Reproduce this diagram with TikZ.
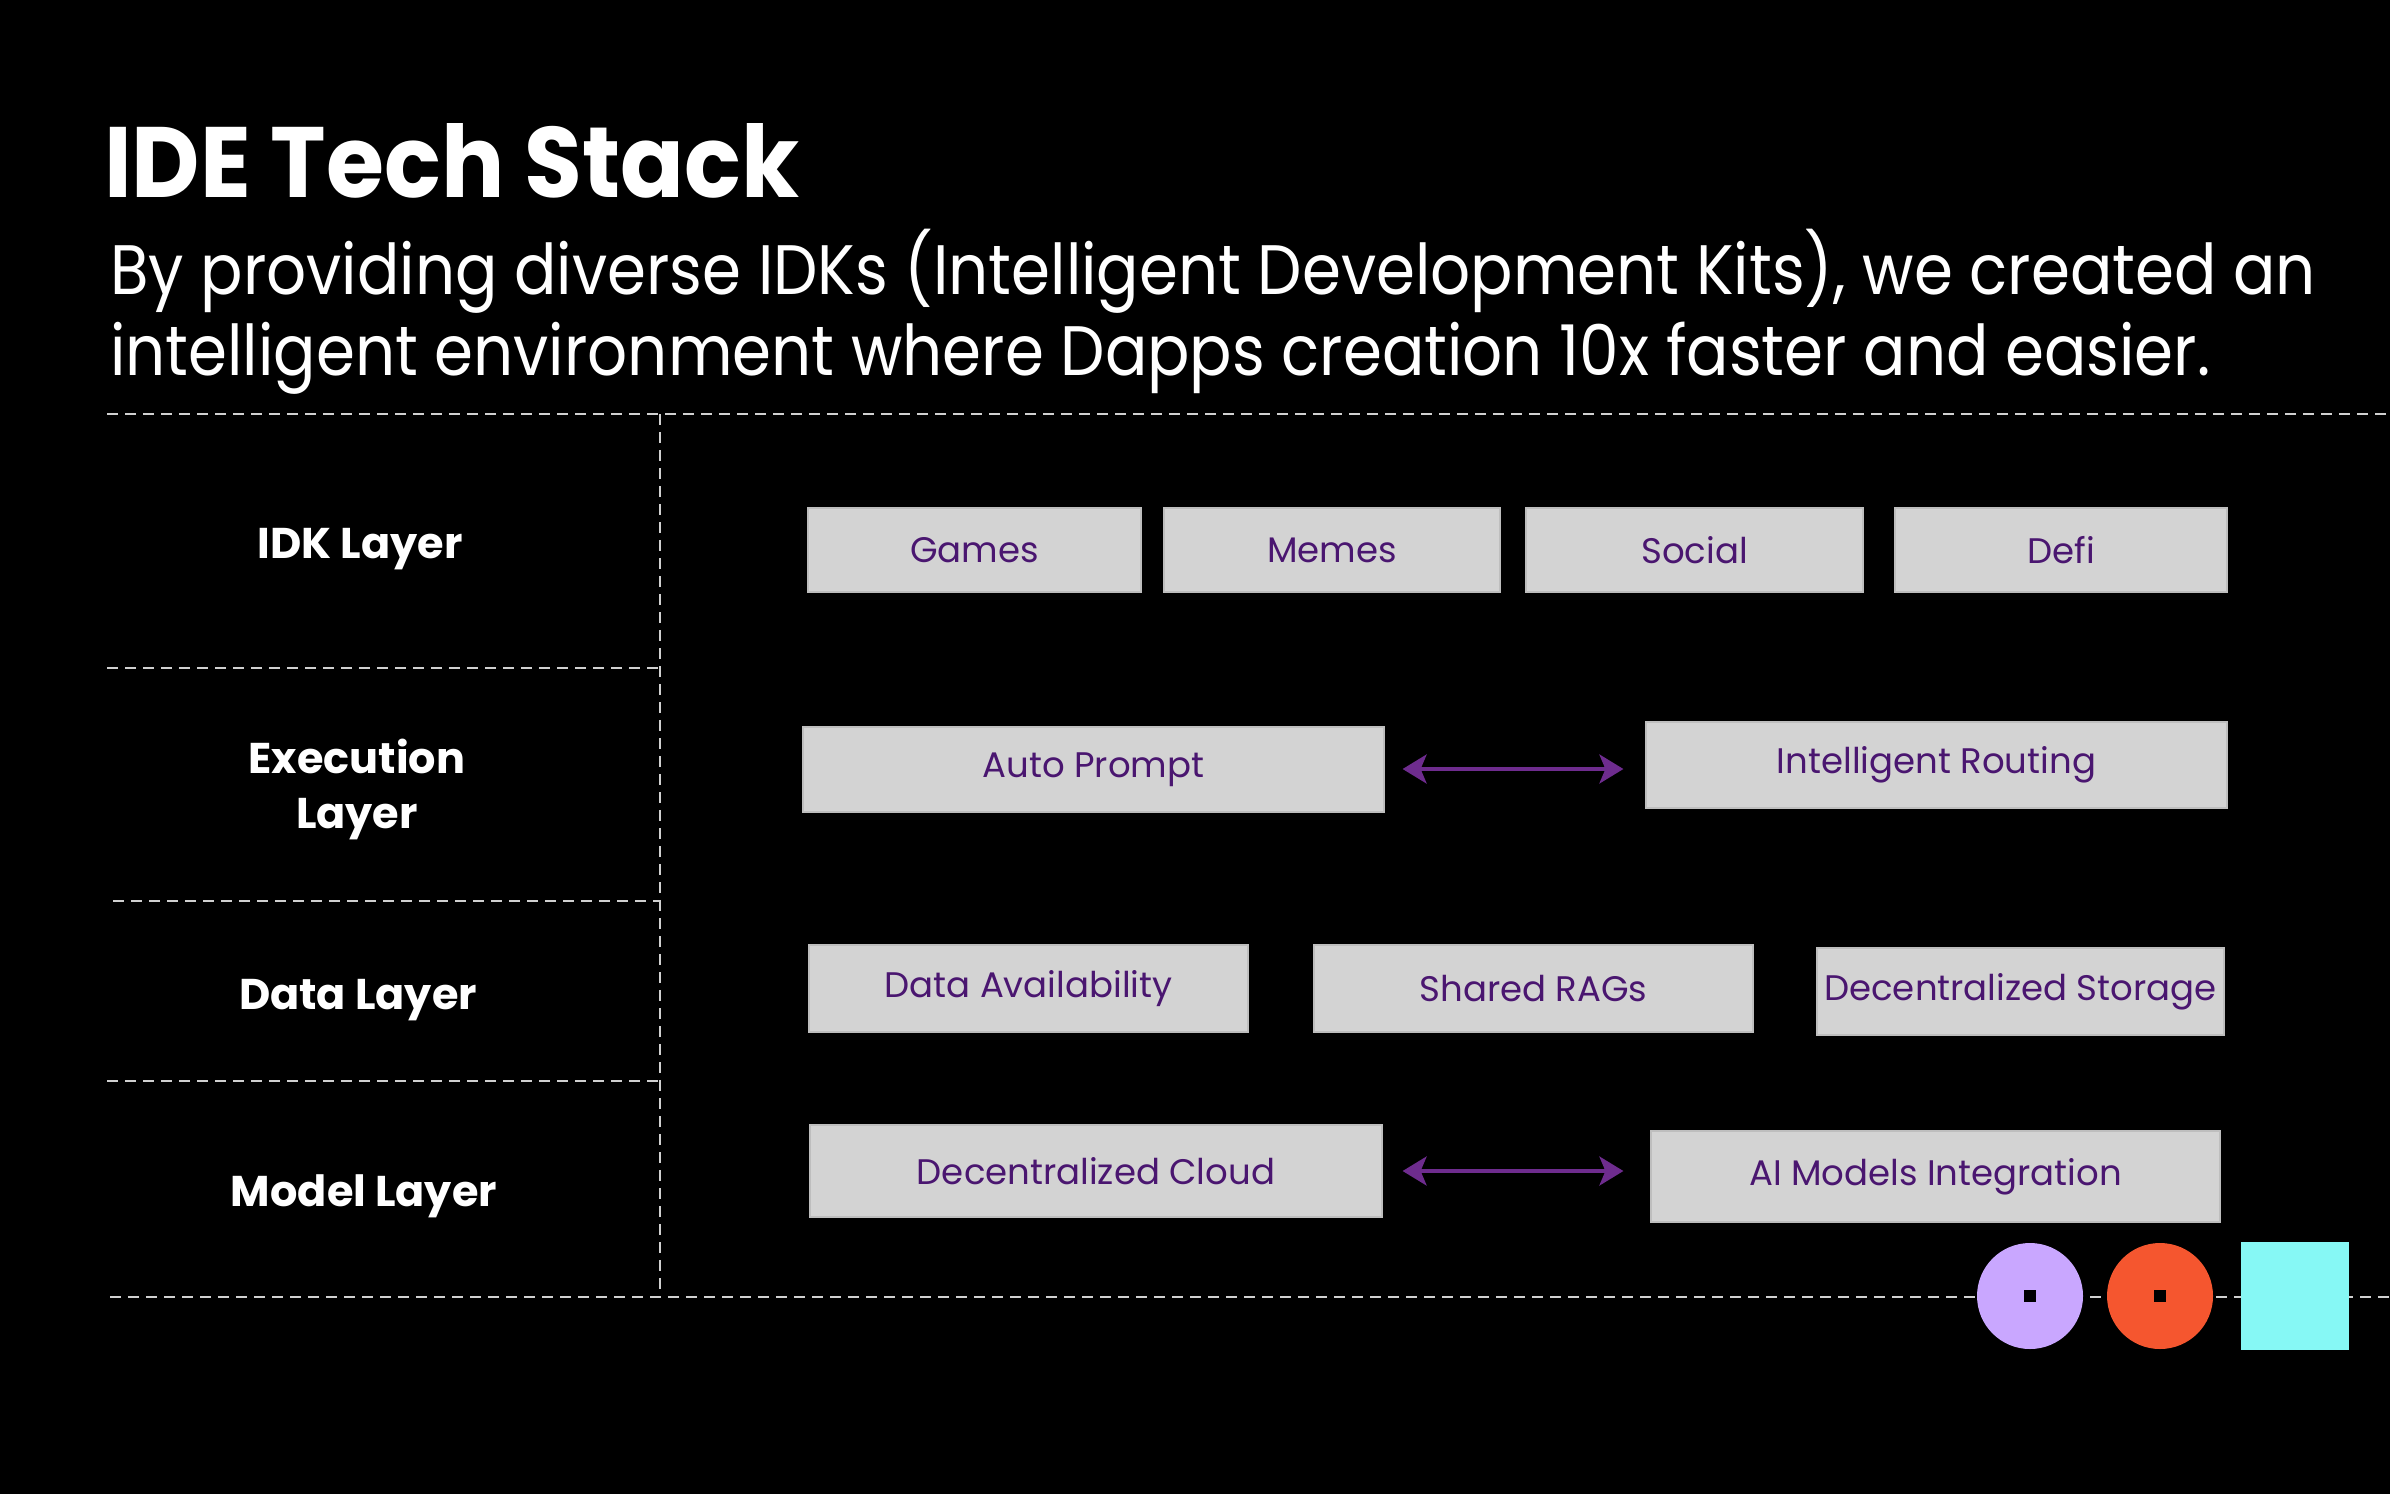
\documentclass[tikz,border=0pt]{standalone}
\usepackage{fontspec}
\setmainfont{Poppins}
\newfontfamily\subfont[FakeStretch=0.896]{Poppins}
\newfontfamily\titlefont[FakeStretch=0.94]{Poppins}
\usetikzlibrary{arrows.meta}
\definecolor{boxgray}{HTML}{D3D3D3}
\definecolor{boxedge}{HTML}{BEBEBE}
\definecolor{txtpurple}{HTML}{4A1670}
\definecolor{arrpurple}{HTML}{6E2C8E}
\definecolor{dashgray}{HTML}{D0D0D0}
\definecolor{lilac}{HTML}{C9A7FF}
\definecolor{tomato}{HTML}{F5562F}
\definecolor{aqua}{HTML}{86F8F5}
\tikzset{
  sep/.style={draw=dashgray, line width=2.5pt, dash pattern=on 11pt off 7pt},
  box/.style={rectangle, fill=boxgray, draw=boxedge, line width=1.2pt, inner sep=0pt,
    text=txtpurple, font=\fontsize{35.5}{35.5}\selectfont},
  lowtxt/.style={text depth=3pt},
  layer/.style={text=white, inner sep=0pt, align=center, font=\bfseries\fontsize{43}{55}\selectfont},
  link/.style={draw=arrpurple, line width=3.5pt, {Stealth[length=24pt,width=29pt,inset=6pt]}-{Stealth[length=24pt,width=29pt,inset=6pt]}},
}
\begin{document}
\begin{tikzpicture}[x=1pt,y=-1pt]
\fill[black] (0,0) rectangle (2390,1494);
\useasboundingbox (0,0) rectangle (2390,1494);

% title and subtitle
\node[anchor=base west, inner sep=0pt, text=white, font=\titlefont\bfseries\fontsize{100}{100}\selectfont] (title) at (104,197) {IDE Tech Stack};
\node[anchor=base west, inner sep=0pt, text=white, font=\subfont\fontsize{70}{70}\selectfont] (sub1) at (110,294) {By providing diverse IDKs (Intelligent Development Kits), we created an};
\node[anchor=base west, inner sep=0pt, text=white, font=\subfont\fontsize{70}{70}\selectfont] (sub2) at (110,375) {intelligent environment where Dapps creation 10x faster and easier.};

% grid lines
\coordinate (tl) at (107,414);
\coordinate (tr) at (2390,414);
\coordinate (vt) at (660,414);
\coordinate (vb) at (660,1296);
\coordinate (bl) at (110,1297);
\coordinate (br) at (2390,1297);
\draw[sep] (tl) -- (tr);
\draw[sep] (vt) -- (vb);
\draw[sep] (bl) -- (br);
\coordinate (h1a) at (107,668); \coordinate (h1b) at (660,668);
\coordinate (h2a) at (113,901); \coordinate (h2b) at (660,901);
\coordinate (h3a) at (107,1081); \coordinate (h3b) at (660,1081);
\draw[sep] (h1a) -- (h1b);
\draw[sep] (h2a) -- (h2b);
\draw[sep] (h3a) -- (h3b);

% layer labels
\node[layer, anchor=base] (l1) at (360,558) {IDK Layer};
\node[layer, anchor=base] (l2) at (357,828) {Execution\\Layer};
\node[layer, anchor=base] (l3) at (358,1009) {Data Layer};
\node[layer, anchor=base] (l4) at (364,1206) {Model Layer};

% boxes
\node[box, minimum width=333pt, minimum height=84pt] (games) at (974.5,550) {Games};
\node[box, minimum width=336pt, minimum height=84pt] (memes) at (1332,550) {Memes};
\node[box, minimum width=337pt, minimum height=84pt] (social) at (1694.5,550) {Social};
\node[box, minimum width=332pt, minimum height=84pt] (defi) at (2061,550) {Defi};

\node[box, minimum width=581pt, minimum height=85pt] (auto) at (1093.5,769.5) {Auto Prompt};
\node[box, minimum width=581pt, minimum height=86pt] (route) at (1936.5,765) {Intelligent Routing};

\node[box, minimum width=439pt, minimum height=87pt] (avail) at (1028.5,988.5) {Data Availability};
\node[box, minimum width=439pt, minimum height=87pt] (rags) at (1533.5,988.5) {Shared RAGs};
\node[box, minimum width=407pt, minimum height=87pt] (store) at (2020.5,991.5) {Decentralized Storage};

\node[box, minimum width=572pt, minimum height=92pt] (cloud) at (1096,1171) {Decentralized Cloud};
\node[box, minimum width=569pt, minimum height=91pt] (models) at (1935.5,1176.5) {AI Models Integration};

% connectors
\draw[link] ([xshift=18pt,yshift=0.5pt]auto.east) -- ([xshift=-22pt,yshift=0.5pt]auto.east -| route.west);
\draw[link] ([xshift=20pt]cloud.east) -- ([xshift=-27pt]cloud.east -| models.west);

% decorations
\node[circle, fill=lilac, minimum size=106pt, inner sep=0pt] (c1) at (2030,1296) {};
\node[circle, fill=tomato, minimum size=106pt, inner sep=0pt] (c2) at (2160,1296) {};
\node[rectangle, fill=aqua, minimum width=108pt, minimum height=108pt, inner sep=0pt] (sq) at (2294.5,1296) {};
\node[rectangle, fill=black, minimum size=12pt, inner sep=0pt] (d1) at (c1.center) {};
\node[rectangle, fill=black, minimum size=12pt, inner sep=0pt] (d2) at (c2.center) {};
\end{tikzpicture}
\end{document}
